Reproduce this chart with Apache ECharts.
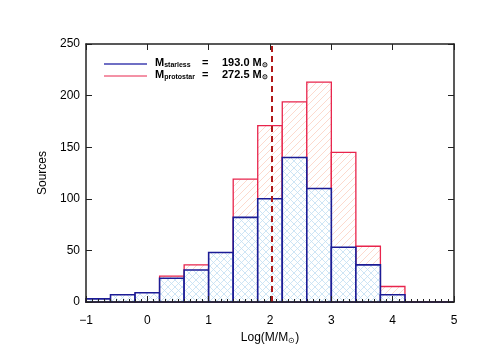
<!DOCTYPE html>
<html>
<head>
<meta charset="utf-8">
<script src="https://cdn.jsdelivr.net/npm/echarts@6/dist/echarts.min.js"></script>
<style>
  html, body { margin: 0; padding: 0; background: #fff; }
  #chart { width: 491px; height: 350px; }
</style>
</head>
<body>
<div id="chart"></div>
<script>
// bin edges in Log(M/Msun), width 0.4
const binEdges = [-1, -0.6, -0.2, 0.2, 0.6, 1.0, 1.4, 1.8, 2.2, 2.6, 3.0, 3.4, 3.8, 4.2, 4.6, 5.0]
const starless = [3, 7, 9, 23, 31, 48, 82, 100, 140, 110, 53, 36, 7, 0, 0]
const protostar = [2, 4, 8, 25, 36, 46, 119, 171, 194, 213, 145, 54, 15, 0, 0]
const medianLine = 2.03

const FONT = 'Liberation Sans, Arial, sans-serif'

// hatch patterns
const makeHatch = (color, cross) => {
  const c = document.createElement('canvas')
  c.width = 7
  c.height = 7
  const ctx = c.getContext('2d')
  ctx.fillStyle = '#fff'
  ctx.fillRect(0, 0, 7, 7)
  ctx.strokeStyle = color
  ctx.lineWidth = 0.8
  ctx.beginPath()
  ctx.moveTo(-1, 8); ctx.lineTo(8, -1)
  ctx.moveTo(-1, 1); ctx.lineTo(1, -1)
  ctx.moveTo(6, 8); ctx.lineTo(8, 6)
  if (cross) {
    ctx.moveTo(-1, -1); ctx.lineTo(8, 8)
    ctx.moveTo(-1, 6); ctx.lineTo(1, 8)
    ctx.moveTo(6, -1); ctx.lineTo(8, 1)
  }
  ctx.stroke()
  return { image: c, repeat: 'repeat' }
}

const redFill = makeHatch('#fbd0c2', false)
const blueFill = makeHatch('#c2def2', true)

const toData = (counts) => counts.map((v, i) => [binEdges[i], binEdges[i + 1], v])

const histRender = (fill, stroke, lw) => (params, api) => {
  const p0 = api.coord([api.value(0), api.value(2)])
  const p1 = api.coord([api.value(1), 0])
  return {
    type: 'rect',
    shape: { x: p0[0], y: p0[1], width: p1[0] - p0[0], height: p1[1] - p0[1] },
    style: { fill: fill, stroke: stroke, lineWidth: lw }
  }
}

const chart = echarts.init(document.getElementById('chart'))

const axisLine = { show: true, onZero: false, lineStyle: { color: '#222', width: 1.5 } }
const tick = { inside: true, length: 6, lineStyle: { color: '#222' } }

const option = {
  backgroundColor: '#fff',
  animation: false,
  grid: { left: 86, top: 44, width: 368, height: 262 },
  xAxis: [
    {
      type: 'value', min: -1, max: 5, interval: 1, z: 10,
      axisLine: axisLine,
      axisTick: tick,
      minorTick: { show: true, splitNumber: 10, length: 3, lineStyle: { color: '#222' } },
      axisLabel: {
        color: '#000', fontFamily: FONT, fontSize: 12, margin: 13,
        formatter: v => String(v).replace('-', '\u2212')
      },
      splitLine: { show: false },
      name: 'Log(M/M{s|\u2299})',
      nameLocation: 'middle', nameGap: 29,
      nameTextStyle: {
        color: '#000', fontFamily: FONT, fontSize: 12,
        rich: { s: { fontSize: 8, verticalAlign: 'bottom', padding: [6, 0, 0, 0], fontFamily: FONT } }
      }
    },
    {
      type: 'value', min: -1, max: 5, interval: 1, position: 'top', z: 10,
      axisLine: axisLine,
      axisTick: tick,
      axisLabel: { show: false },
      splitLine: { show: false }
    }
  ],
  yAxis: [
    {
      type: 'value', min: 0, max: 250, interval: 50, z: 10,
      axisLine: axisLine,
      axisTick: tick,
      axisLabel: { color: '#000', fontFamily: FONT, fontSize: 12, margin: 6 },
      splitLine: { show: false },
      name: 'Sources', nameLocation: 'middle', nameGap: 31, nameRotate: 90,
      nameTextStyle: { color: '#000', fontFamily: FONT, fontSize: 12 }
    },
    {
      type: 'value', min: 0, max: 250, interval: 50, position: 'right', z: 10,
      axisLine: axisLine,
      axisTick: tick,
      axisLabel: { show: false },
      splitLine: { show: false }
    }
  ],
  series: [
    {
      name: 'protostar', type: 'custom',
      renderItem: histRender(redFill, '#e8244c', 1.3),
      encode: { x: [0, 1], y: 2 },
      data: toData(protostar),
      z: 2
    },
    {
      name: 'starless', type: 'custom',
      renderItem: histRender(blueFill, '#1c1c96', 1.6),
      encode: { x: [0, 1], y: 2 },
      data: toData(starless),
      z: 3,
      markLine: {
        silent: true, symbol: 'none',
        label: { show: false },
        lineStyle: { color: '#b01818', width: 2, type: [6, 4] },
        data: [{ xAxis: medianLine }]
      }
    }
  ],
  graphic: [
    { type: 'line', shape: { x1: 104, y1: 64, x2: 147, y2: 64 }, style: { stroke: '#6f6fc4', lineWidth: 2 } },
    { type: 'line', shape: { x1: 104, y1: 76, x2: 147, y2: 76 }, style: { stroke: '#e8244c', lineWidth: 1 } },
    {
      type: 'text', left: 155, top: 57,
      style: {
        text: 'M{s|starless}', fill: '#000', font: 'bold 11px ' + FONT,
        rich: { s: { font: 'bold 7px ' + FONT, padding: [5, 0, 0, 0] } }
      }
    },
    {
      type: 'text', left: 155, top: 69,
      style: {
        text: 'M{s|protostar}', fill: '#000', font: 'bold 11px ' + FONT,
        rich: { s: { font: 'bold 7px ' + FONT, padding: [5, 0, 0, 0] } }
      }
    },
    { type: 'text', left: 202, top: 57, style: { text: '=', fill: '#000', font: 'bold 11px ' + FONT } },
    { type: 'text', left: 202, top: 69, style: { text: '=', fill: '#000', font: 'bold 11px ' + FONT } },
    { type: 'text', left: 222, top: 57, style: { text: '193.0 M{s|\u2299}', fill: '#000', font: 'bold 11px ' + FONT, rich: { s: { font: 'bold 7px ' + FONT, padding: [5, 0, 0, 0] } } } },
    { type: 'text', left: 222, top: 69, style: { text: '272.5 M{s|\u2299}', fill: '#000', font: 'bold 11px ' + FONT, rich: { s: { font: 'bold 7px ' + FONT, padding: [5, 0, 0, 0] } } } }
  ]
}

chart.setOption(option)
</script>
</body>
</html>
